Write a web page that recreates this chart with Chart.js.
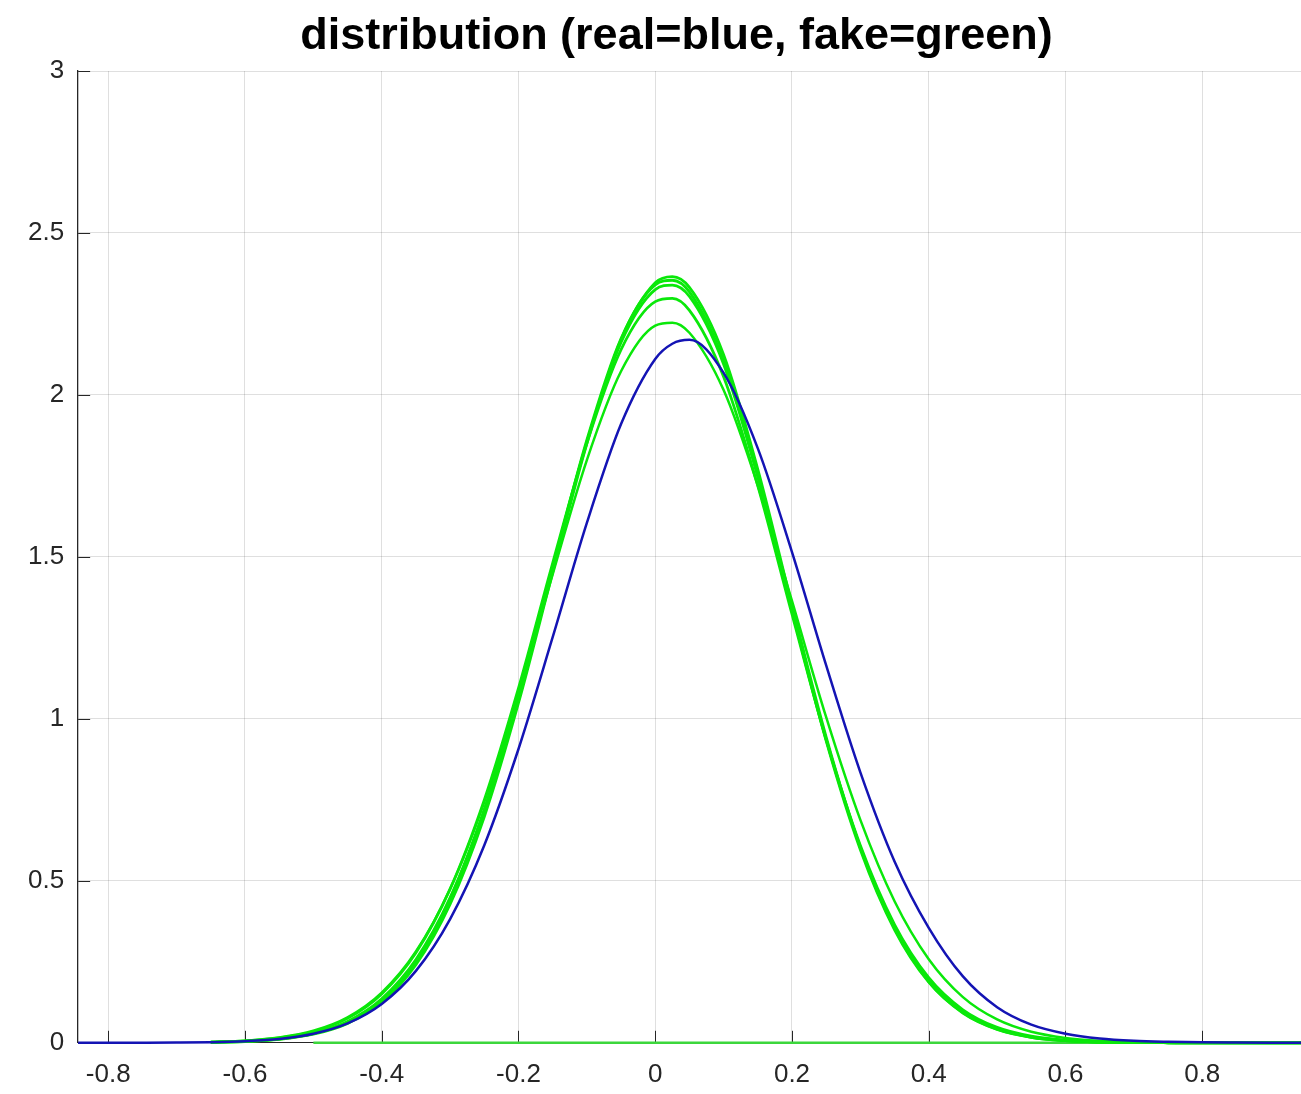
<!DOCTYPE html>
<html>
<head>
<meta charset="utf-8">
<title>distribution</title>
<script src="https://cdn.jsdelivr.net/npm/chart.js@4.4.1/dist/chart.umd.min.js"></script>
<style>
  html, body { margin: 0; padding: 0; background: #fff; overflow: hidden; }
  #wrap { width: 1339px; height: 1111px; }
</style>
</head>
<body>
<div id="wrap"><canvas id="myChart" width="1339" height="1111"></canvas></div>
<script>
// sample positions shared by every curve
var xs = [-0.85, -0.80, -0.75, -0.70, -0.65, -0.60, -0.55, -0.50, -0.45, -0.40,
          -0.35, -0.30, -0.25, -0.20, -0.15, -0.10, -0.05, 0.00, 0.025, 0.05, 0.10,
          0.15, 0.20, 0.25, 0.30, 0.35, 0.40, 0.45, 0.50, 0.55, 0.60,
          0.65, 0.70, 0.75, 0.80, 0.85, 0.90, 0.95];

// real distribution
var real = [0.0000, 0.0001, 0.0002, 0.0006, 0.0018, 0.0050, 0.0120, 0.0280, 0.0600, 0.1200,
            0.222, 0.382, 0.610, 0.907, 1.252, 1.605, 1.910, 2.111, 2.158, 2.170, 2.068,
            1.835, 1.515, 1.165, 0.835, 0.560, 0.355, 0.205, 0.110, 0.056, 0.028,
            0.0130, 0.0060, 0.0030, 0.0015, 0.0007, 0.0003, 0.0001];

// generated distributions
var fake1 = [null, null, null, null, 0.0014, 0.0040, 0.0107, 0.0264, 0.060, 0.125,
             0.241, 0.428, 0.698, 1.049, 1.452, 1.850, 2.171, 2.346, 2.365, 2.332, 2.124,
             1.770, 1.351, 0.944, 0.603, 0.353, 0.189, 0.093, 0.0417, 0.0171, 0.0065,
             0.0022, 0.0007, 0.0002, 0, 0, 0, 0];
var fake2 = [null, null, null, null, 0.0015, 0.0044, 0.0116, 0.0283, 0.0637, 0.132,
             0.251, 0.442, 0.715, 1.068, 1.468, 1.861, 2.174, 2.340, 2.354, 2.318, 2.105,
             1.751, 1.335, 0.932, 0.596, 0.349, 0.187, 0.092, 0.0415, 0.0171, 0.0065,
             0.0022, 0.0007, 0.0002, 0, 0, 0, 0];
var fake3 = [null, null, null, null, 0.0017, 0.0047, 0.0123, 0.0298, 0.066, 0.136,
             0.257, 0.448, 0.721, 1.071, 1.468, 1.855, 2.162, 2.325, 2.339, 2.304, 2.095,
             1.747, 1.336, 0.937, 0.603, 0.356, 0.192, 0.0955, 0.0435, 0.018, 0.007,
             0.0024, 0.0008, 0.0002, 0, 0, 0, 0];
var fake4 = [null, null, null, null, 0.0022, 0.0059, 0.0150, 0.0349, 0.0754, 0.151,
             0.278, 0.475, 0.750, 1.095, 1.481, 1.851, 2.140, 2.288, 2.298, 2.261, 2.056,
             1.719, 1.323, 0.936, 0.609, 0.365, 0.201, 0.102, 0.0475, 0.0203, 0.0080,
             0.0029, 0.0010, 0.0003, 0, 0, 0, 0];
var fake5 = [null, null, null, null, 0.0024, 0.0065, 0.0162, 0.0371, 0.0787, 0.155,
             0.282, 0.475, 0.743, 1.077, 1.446, 1.799, 2.073, 2.214, 2.223, 2.192, 2.015,
             1.720, 1.364, 1.005, 0.688, 0.437, 0.258, 0.141, 0.072, 0.034, 0.015,
             0.0061, 0.0023, 0.0008, 0.0003, 0, 0, 0];

// flat zero line of the generated set
var zeroXs = [-0.50, 1.00];
var zeroYs = [0, 0];

var xTicks = [-0.8, -0.6, -0.4, -0.2, 0, 0.2, 0.4, 0.6, 0.8];
var yTicks = [0, 0.5, 1, 1.5, 2, 2.5, 3];

var BLUE = 'rgb(20,20,180)';
var GREEN = 'rgb(10,232,10)';
var AXIS = '#262626';
var FONT = "'Liberation Sans', Arial, Helvetica, sans-serif";

// lines sitting on y=0 stay visible below the axis edge
var CLIP = {left: 0, top: 0, right: 0, bottom: 4};

function toPoints(xv, yv) {
    var pts = [];
    for (var i = 0; i < xv.length; i++) {
        pts.push({x: xv[i], y: yv[i]});
    }
    return pts;
}

function curve(label, values, color, width) {
    return {
        label: label,
        data: toPoints(xs, values),
        borderColor: color,
        borderWidth: width,
        pointRadius: 0,
        cubicInterpolationMode: 'monotone',
        fill: false,
        clip: CLIP,
    };
}

// tick marks drawn inside the axes
var innerTicks = {
    id: 'innerTicks',
    beforeDatasetsDraw: function (chart) {
        var ctx = chart.ctx;
        var area = chart.chartArea;
        var x = chart.scales.x;
        var y = chart.scales.y;
        ctx.save();
        ctx.strokeStyle = AXIS;
        ctx.lineWidth = 1;
        ctx.beginPath();
        xTicks.forEach(function (v) {
            var px = Math.round(x.getPixelForValue(v)) + 0.5;
            ctx.moveTo(px, area.bottom);
            ctx.lineTo(px, area.bottom - 12);
        });
        yTicks.forEach(function (v) {
            var py = Math.round(y.getPixelForValue(v)) + 0.5;
            ctx.moveTo(area.left, py);
            ctx.lineTo(area.left + 12, py);
        });
        ctx.stroke();
        ctx.restore();
    }
};

var chartCtx = document.getElementById('myChart');
var myChart = new Chart(chartCtx, {
    type: 'line',
    data: {
        datasets: [
            curve('real', real, BLUE, 2.5),
            curve('fake 1', fake1, GREEN, 2.8),
            curve('fake 2', fake2, GREEN, 2.8),
            curve('fake 3', fake3, GREEN, 2.8),
            curve('fake 4', fake4, GREEN, 2.8),
            curve('fake 5', fake5, GREEN, 2.5),
            {
                label: 'zero',
                data: toPoints(zeroXs, zeroYs),
                borderColor: 'rgb(60,215,60)',
                borderWidth: 2.5,
                pointRadius: 0,
                fill: false,
                clip: CLIP,
            },
        ],
    },
    options: {
        responsive: false,
        animation: false,
        layout: { padding: { left: 14, right: 0, top: 0, bottom: 5 } },
        plugins: {
            legend: { display: false },
            tooltip: { enabled: false },
            title: {
                display: true,
                text: 'distribution (real=blue, fake=green)',
                color: '#000',
                font: { family: FONT, size: 45, weight: 'bold' },
                padding: { top: 10, bottom: 7 },
            },
        },
        scales: {
            x: {
                type: 'linear',
                min: -0.844,
                max: 1.0,
                afterBuildTicks: function (scale) {
                    scale.ticks = xTicks.map(function (v) { return {value: v}; });
                },
                ticks: {
                    color: AXIS,
                    padding: 16,
                    font: { family: FONT, size: 26 },
                    callback: function (v) { return String(Math.round(v * 10) / 10); },
                },
                grid: { color: 'rgba(38,38,38,0.15)', drawTicks: false },
                border: { display: true, color: AXIS, width: 1 },
            },
            y: {
                type: 'linear',
                min: 0,
                max: 3,
                afterBuildTicks: function (scale) {
                    scale.ticks = yTicks.map(function (v) { return {value: v}; });
                },
                ticks: {
                    color: AXIS,
                    padding: 14,
                    font: { family: FONT, size: 26 },
                    callback: function (v) { return String(v); },
                },
                grid: { color: 'rgba(38,38,38,0.15)', drawTicks: false },
                border: { display: true, color: AXIS, width: 1.3 },
            },
        },
    },
    plugins: [innerTicks],
});
</script>
</body>
</html>
